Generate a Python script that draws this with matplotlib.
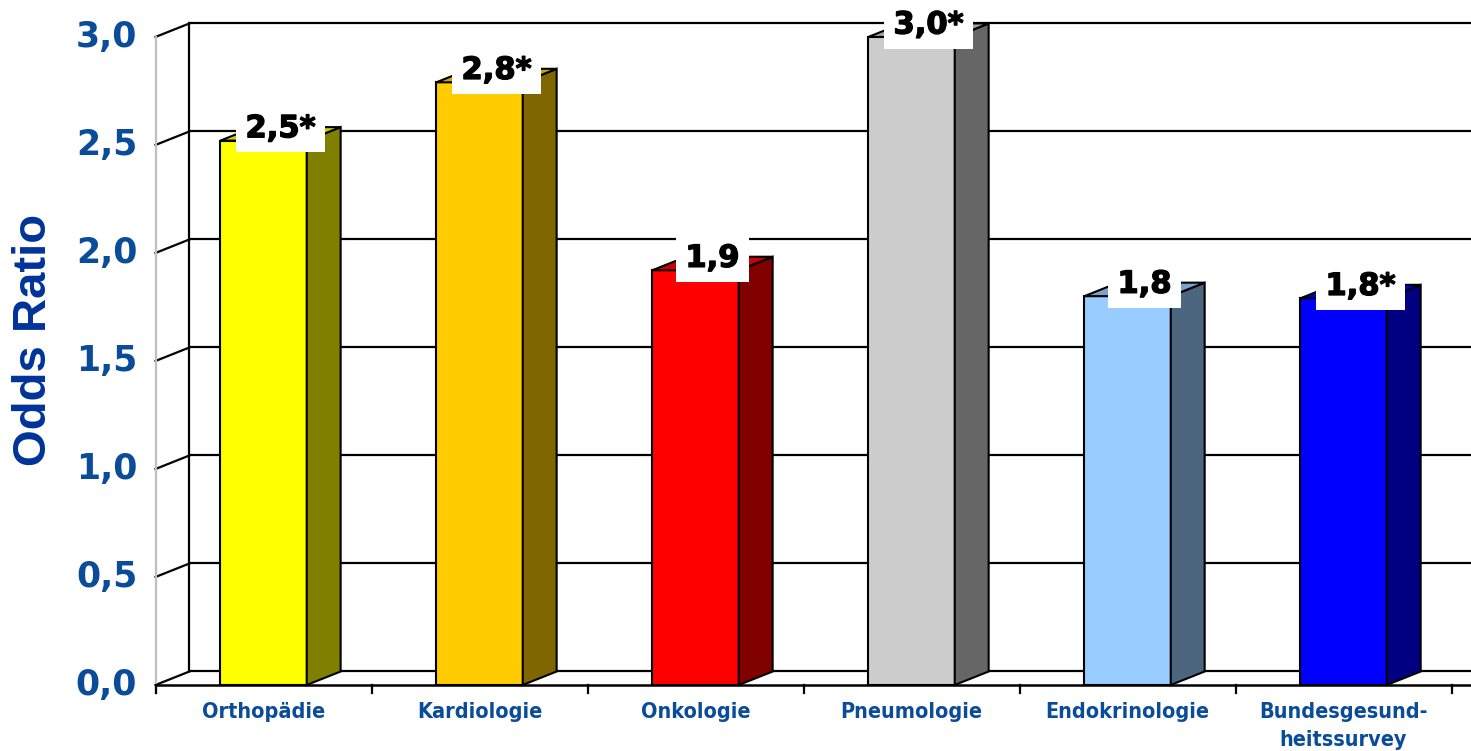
import matplotlib
matplotlib.use("Agg")
import matplotlib.pyplot as plt
from matplotlib.patches import Polygon, Rectangle
import matplotlib.patheffects as pe

# Chart data
categories = ["Orthopädie", "Kardiologie", "Onkologie", "Pneumologie",
              "Endokrinologie", "Bundesgesund-\nheitssurvey"]
odds_ratio = [2.52, 2.79, 1.92, 3.00, 1.80, 1.79]
significant = [True, True, False, True, False, True]
y_ticks = [0.0, 0.5, 1.0, 1.5, 2.0, 2.5, 3.0]

front_colors = ["#FFFF00", "#FFCC00", "#FF0000", "#CCCCCC", "#99CCFF", "#0000FF"]
side_colors = ["#808000", "#806600", "#800000", "#666666", "#4D6680", "#000080"]
top_colors = ["#CCCC00", "#CCA300", "#CC0000", "#A3A3A3", "#7AA3CC", "#0000CC"]

# Pseudo-3D geometry (data units)
DX, DY = 0.157, 0.0625      # depth offset of the back wall
BAR_W = 0.40
X_LEFT, X_RIGHT = -1.22, 5.59
Y_BOTTOM, Y_TOP = -0.3056, 3.171

TICK_BLUE = "#0A4C9A"
LABEL_BLUE = "#003399"

fig = plt.figure(figsize=(14.71, 7.51), dpi=100)
ax = fig.add_axes([0, 0, 1, 1])
ax.set_xlim(X_LEFT, X_RIGHT)
ax.set_ylim(Y_BOTTOM, Y_TOP)
ax.axis("off")

x0 = -0.5
xr = X_RIGHT + 0.1

# Back wall gridlines, left wall diagonals
for v in y_ticks:
    ax.plot([x0 + DX, xr], [v + DY, v + DY], color="black", lw=1.6, zorder=1,
            solid_capstyle="butt")
    ax.plot([x0, x0 + DX], [v, v + DY], color="black", lw=1.6, zorder=1)
# Back wall left edge
ax.plot([x0 + DX, x0 + DX], [DY, y_ticks[-1] + DY], color="black", lw=1.6, zorder=1)
# Front left edge (value axis)
ax.plot([x0, x0], [-0.035, y_ticks[-1]], color="#BFBFBF", lw=1.6, zorder=1)
# Front floor edge and category ticks
ax.plot([x0, xr], [0, 0], color="black", lw=1.8, zorder=5)
for k in range(len(categories) + 1):
    ax.plot([x0 + k, x0 + k], [0, -0.035], color="black", lw=1.6, zorder=5)

# Bars
for i, (val, fc, sc, tc) in enumerate(zip(odds_ratio, front_colors, side_colors, top_colors)):
    left = i - BAR_W / 2
    right = i + BAR_W / 2
    ax.add_patch(Rectangle((left, 0), BAR_W, val, facecolor=fc, edgecolor="black",
                           lw=1.5, zorder=3))
    ax.add_patch(Polygon([(right, 0), (right + DX, DY), (right + DX, val + DY), (right, val)],
                         closed=True, facecolor=sc, edgecolor="black", lw=1.5, zorder=3))
    ax.add_patch(Polygon([(left, val), (right, val), (right + DX, val + DY), (left + DX, val + DY)],
                         closed=True, facecolor=tc, edgecolor="black", lw=1.5, zorder=3))
    label = f"{val:.1f}".replace(".", ",") + ("*" if significant[i] else "")
    ax.text(i + DX / 2, val + 0.055, label, ha="center", va="center",
            fontsize=22, fontweight="bold", color="black", family="DejaVu Sans", zorder=6,
            path_effects=[pe.withStroke(linewidth=1.0, foreground="black")],
            bbox=dict(boxstyle="square,pad=0.3", facecolor="white", edgecolor="none"))

# Value axis tick labels
for v in y_ticks:
    ax.text(x0 - 0.085, v, f"{v:.1f}".replace(".", ","), ha="right", va="center",
            fontsize=25, fontweight="bold", color=TICK_BLUE, family="DejaVu Sans")

# Category labels
for i, name in enumerate(categories):
    ax.text(i, -0.08, name, ha="center", va="top", fontsize=15.5, fontweight="bold",
            fontstretch="condensed", color=TICK_BLUE, family="DejaVu Sans",
            linespacing=1.5)

# Axis title
ax.text(X_LEFT + 34 / 216, (751 - 340 - 66) / 216, "Odds Ratio", rotation=90,
        ha="center", va="center", fontsize=34, fontweight="bold", color=LABEL_BLUE,
        family="Liberation Sans")

fig.savefig("out.png", dpi=100)
